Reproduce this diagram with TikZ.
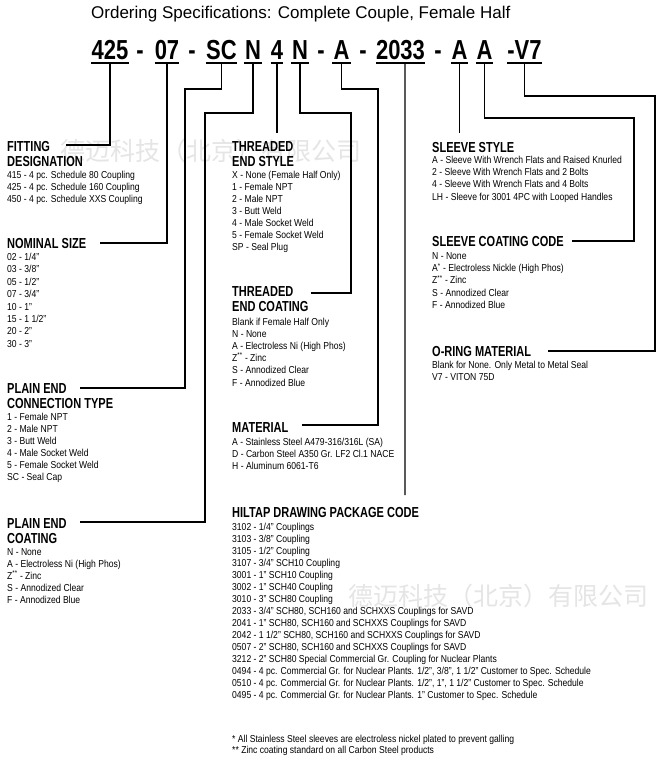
\documentclass[tikz,border=0pt]{standalone}
\usepackage{fontspec}
\setmainfont{Liberation Sans}
\newfontfamily\titlefont{Liberation Sans}
\newfontfamily\codefont[FakeStretch=0.8]{Liberation Sans}
\newfontfamily\headfont[FakeStretch=0.76]{Liberation Sans}
\newfontfamily\bodyfont[FakeStretch=0.85]{Liberation Sans}
\newfontfamily\cjkfont{Noto Sans CJK SC}
\begin{document}
\begin{tikzpicture}[x=1bp,y=-1bp,
  ln/.style={line width=1.1bp, black},
  ttl/.style={font=\titlefont\fontsize{17bp}{20bp}\selectfont, anchor=base west, inner sep=0},
  codeel/.style={font=\codefont\bfseries\fontsize{27.5bp}{30bp}\selectfont, anchor=south, inner sep=0, text height=19bp, text depth=3bp},
  hd/.style={font=\headfont\bfseries\fontsize{14.5bp}{16bp}\selectfont, anchor=base west, inner sep=0},
  itm/.style={font=\bodyfont\fontsize{10.1bp}{12bp}\selectfont, anchor=base west, inner sep=0},
  wm/.style={font=\cjkfont\fontsize{25bp}{28bp}\selectfont, text=black!10, inner sep=0}]
\useasboundingbox (0,0) rectangle (661,775);
\fill[white] (0,0) rectangle (661,775);
% watermarks
\node[wm] (wm1) at (211,151) {德迈科技（北京）有限公司};
\node[wm] (wm2) at (498,596) {德迈科技（北京）有限公司};
% title
\node[ttl] (title) at (91,19) {Ordering Specifications: Complete Couple, Female Half};
% code line
\node[codeel, minimum width=38bp] (c1) at (110,63) {425};
\node[codeel] (d1) at (140,63) {-};
\node[codeel, minimum width=24bp] (c2) at (167,63) {07};
\node[codeel] (d2) at (192,63) {-};
\node[codeel, minimum width=31bp] (c3) at (221.5,63) {SC};
\node[codeel, minimum width=18bp] (c4) at (253,63) {N};
\node[codeel, minimum width=12bp] (c5) at (277,63) {4};
\node[codeel, minimum width=18bp] (c6) at (300,63) {N};
\node[codeel] (d3) at (321,63) {-};
\node[codeel, minimum width=19bp] (c7) at (341.5,63) {A};
\node[codeel] (d4) at (363,63) {-};
\node[codeel, minimum width=49bp] (c8) at (400.5,63) {2033};
\node[codeel] (d5) at (438,63) {-};
\node[codeel, minimum width=17bp] (c9) at (459.5,63) {A};
\node[codeel, minimum width=17bp] (c10) at (484.5,63) {A};
\node[codeel, minimum width=25bp] (c11) at (524.5,63) {-V7};
\foreach \n in {c1,c2,c3,c4,c5,c6,c7,c8,c9,c10,c11}
  \draw[ln] (\n.south west) -- (\n.south east);
% connector end points and bends
\coordinate (fitE) at (66,145);
\coordinate (nomE) at (100,243);
\coordinate (k3) at (185,89);
\coordinate (pecE) at (80,388);
\coordinate (k4) at (205,113);
\coordinate (pcoE) at (80,522);
\coordinate (tesT) at (277,133);
\coordinate (k6) at (351,113);
\coordinate (tecE) at (311,293);
\coordinate (k7) at (378,89);
\coordinate (matE) at (302,425);
\coordinate (hilT) at (405,495);
\coordinate (ssT) at (459.5,133);
\coordinate (k10) at (634,118);
\coordinate (scE) at (572,241);
\coordinate (k11) at (655,96);
\coordinate (orE) at (548,351);
% connectors
\draw[ln] (c1.south) |- (fitE);
\draw[ln] (c2.south) |- (nomE);
\draw[ln] (c3.south) |- (k3) |- (pecE);
\draw[ln] (c4.south) |- (k4) |- (pcoE);
\draw[ln] (c5.south) -- (tesT);
\draw[ln] (c6.south) |- (k6) |- (tecE);
\draw[ln] (c7.south) |- (k7) |- (matE);
\draw[ln] ([xshift=4.5bp]c8.south) -- (hilT);
\draw[ln] (c9.south) -- (ssT);
\draw[ln] (c10.south) |- (k10) |- (scE);
\draw[ln] (c11.south) |- (k11) |- (orE);
% ---------- left column ----------
\node[hd] (fdh1) at (7,151) {FITTING};
\node[hd] (fdh2) at (7,166) {DESIGNATION};
\foreach \t [count=\i from 0] in {{415 - 4 pc. Schedule 80 Coupling},{425 - 4 pc. Schedule 160 Coupling},{450 - 4 pc. Schedule XXS Coupling}}
  \node[itm] (fd\i) at (7,{178.3+12*\i}) {\t};
\node[hd] (nsh) at (7,248.5) {NOMINAL SIZE};
\foreach \t [count=\i from 0] in {{02 - 1/4”},{03 - 3/8”},{05 - 1/2”},{07 - 3/4”},{10 - 1”},{15 - 1 1/2”},{20 - 2”},{30 - 3”}}
  \node[itm] (ns\i) at (7,{260.5+12.4*\i}) {\t};
\node[hd] (pech1) at (7,393) {PLAIN END};
\node[hd] (pech2) at (7,408) {CONNECTION TYPE};
\foreach \t [count=\i from 0] in {{1 - Female NPT},{2 - Male NPT},{3 - Butt Weld},{4 - Male Socket Weld},{5 - Female Socket Weld},{SC - Seal Cap}}
  \node[itm] (pec\i) at (7,{420+12.1*\i}) {\t};
\node[hd] (pcoh1) at (7,528) {PLAIN END};
\node[hd] (pcoh2) at (7,543) {COATING};
\foreach \t [count=\i from 0] in {{N - None},{A - Electroless Ni (High Phos)},{Z\textsuperscript{**} - Zinc},{S - Annodized Clear},{F - Annodized Blue}}
  \node[itm] (pco\i) at (7,{555+12.1*\i}) {\t};
% ---------- middle column ----------
\node[hd] (tesh1) at (232,151.7) {THREADED};
\node[hd] (tesh2) at (232,166) {END STYLE};
\foreach \t [count=\i from 0] in {{X - None (Female Half Only)},{1 - Female NPT},{2 - Male NPT},{3 - Butt Weld},{4 - Male Socket Weld},{5 - Female Socket Weld},{SP - Seal Plug}}
  \node[itm] (tes\i) at (232,{178.3+12.1*\i}) {\t};
\node[hd] (tech1) at (232,296.7) {THREADED};
\node[hd] (tech2) at (232,311.5) {END COATING};
\foreach \t [count=\i from 0] in {{Blank if Female Half Only},{N - None},{A - Electroless Ni (High Phos)},{Z\textsuperscript{**} - Zinc},{S - Annodized Clear},{F - Annodized Blue}}
  \node[itm] (tec\i) at (232,{325+12.2*\i}) {\t};
\node[hd] (math) at (232,432.7) {MATERIAL};
\foreach \t [count=\i from 0] in {{A - Stainless Steel A479-316/316L (SA)},{D - Carbon Steel A350 Gr. LF2 Cl.1 NACE},{H - Aluminum 6061-T6}}
  \node[itm] (mat\i) at (232,{445+12.3*\i}) {\t};
\node[hd] (hilh) at (232,517.7) {HILTAP DRAWING PACKAGE CODE};
\foreach \t [count=\i from 0] in {{3102 - 1/4” Couplings},{3103 - 3/8” Coupling},{3105 - 1/2” Coupling},{3107 - 3/4” SCH10 Coupling},{3001 - 1” SCH10 Coupling},{3002 - 1” SCH40 Coupling},{3010 - 3” SCH80 Coupling},{2033 - 3/4” SCH80, SCH160 and SCHXXS Couplings for SAVD},{2041 - 1” SCH80, SCH160 and SCHXXS Couplings for SAVD},{2042 - 1 1/2” SCH80, SCH160 and SCHXXS Couplings for SAVD},{0507 - 2” SCH80, SCH160 and SCHXXS Couplings for SAVD},{3212 - 2” SCH80 Special Commercial Gr. Coupling for Nuclear Plants},{0494 - 4 pc. Commercial Gr. for Nuclear Plants. 1/2”, 3/8”, 1 1/2” Customer to Spec. Schedule},{0510 - 4 pc. Commercial Gr. for Nuclear Plants. 1/2”, 1”, 1 1/2” Customer to Spec. Schedule},{0495 - 4 pc. Commercial Gr. for Nuclear Plants. 1” Customer to Spec. Schedule}}
  \node[itm] (hil\i) at (232,{530+12*\i}) {\t};
\node[itm] (fn1) at (232,742.5) {* All Stainless Steel sleeves are electroless nickel plated to prevent galling};
\node[itm] (fn2) at (232,753) {** Zinc coating standard on all Carbon Steel products};
% ---------- right column ----------
\node[hd] (ssh) at (432,152) {SLEEVE STYLE};
\foreach \t [count=\i from 0] in {{A - Sleeve With Wrench Flats and Raised Knurled},{2 - Sleeve With Wrench Flats and 2 Bolts},{4 - Sleeve With Wrench Flats and 4 Bolts},{LH - Sleeve for 3001 4PC with Looped Handles}}
  \node[itm] (ss\i) at (432,{163.5+12.2*\i}) {\t};
\node[hd] (sch) at (432,246.5) {SLEEVE COATING CODE};
\foreach \t [count=\i from 0] in {{N - None},{A\textsuperscript{*} - Electroless Nickle (High Phos)},{Z\textsuperscript{**} - Zinc},{S - Annodized Clear},{F - Annodized Blue}}
  \node[itm] (sc\i) at (432,{259.5+12.2*\i}) {\t};
\node[hd] (orh) at (432,356.5) {O-RING MATERIAL};
\node[itm] (or0) at (432,368.7) {Blank for None. Only Metal to Metal Seal};
\node[itm] (or1) at (432,380.8) {V7 - VITON 75D};
\end{tikzpicture}
\end{document}
